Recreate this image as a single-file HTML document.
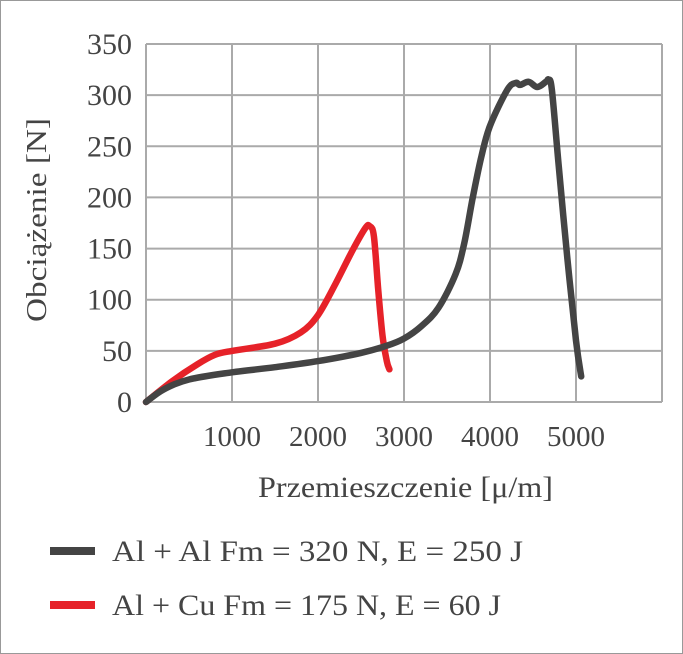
<!DOCTYPE html>
<html><head><meta charset="utf-8"><style>
body{margin:0;background:#fff}
svg{display:block;font-family:"Liberation Serif",serif}
</style></head><body>
<svg width="683" height="654" viewBox="0 0 683 654">
<rect x="0.5" y="0.5" width="682" height="653" fill="#fff" stroke="#999"/>
<g id="grid"></g><g id="ticks"></g><g id="series"></g>
<text x="46" y="220" transform="rotate(-90 46 220)" font-size="29" fill="#444" text-anchor="middle" textLength="204" lengthAdjust="spacingAndGlyphs">Obciążenie [N]</text>
<text x="258" y="497" font-size="30" fill="#444" textLength="295" lengthAdjust="spacingAndGlyphs">Przemieszczenie [μ/m]</text>
<g>
<line x1="50" y1="551" x2="95" y2="551" stroke="#444" stroke-width="8"/>
<text x="112" y="561" font-size="30" fill="#444" textLength="411" lengthAdjust="spacingAndGlyphs">Al + Al Fm = 320 N, E = 250 J</text>
<line x1="50" y1="605" x2="95" y2="605" stroke="#e62229" stroke-width="8"/>
<text x="112" y="615" font-size="30" fill="#444" textLength="389" lengthAdjust="spacingAndGlyphs">Al + Cu Fm = 175 N, E = 60 J</text>
</g>
</svg>
<script>
const xTicks=[1000,2000,3000,4000,5000];
const yTicks=[0,50,100,150,200,250,300,350];
const alAlX=[0,200,500,1000,1500,2000,2500,2800,3000,3200,3400,3600,3700,3800,3900,4000,4200,4300,4350,4450,4550,4650,4680,4720,4800,4900,5000,5060];
const alAlY=[0,12,22,29,34,40,48,55,62,74,92,125,155,200,240,270,305,312,310,313,308,313,315,305,230,140,60,25];
const alCuX=[0,300,600,800,1000,1500,1800,2000,2200,2400,2550,2600,2650,2700,2750,2800,2830];
const alCuY=[0,20,37,46,50,57,68,85,115,148,170,172,162,110,65,40,32];
const X0=146,X1=662,Y0=402,Y1=44,XMAX=6000,YMAX=350;
const sx=v=>X0+v/XMAX*(X1-X0), sy=v=>Y0-v/YMAX*(Y0-Y1);
const NS="http://www.w3.org/2000/svg";
const grid=document.getElementById('grid'),ticks=document.getElementById('ticks'),ser=document.getElementById('series');
function mk(tag,at,p){const e=document.createElementNS(NS,tag);for(const k in at)e.setAttribute(k,at[k]);p.appendChild(e);return e;}
for(let v=0;v<=XMAX;v+=1000){const l=mk('line',{x1:sx(v),x2:sx(v),y1:Y1,y2:Y0,stroke:'#aaa','stroke-width':2},grid);

}
yTicks.forEach(v=>{const l=mk('line',{x1:X0,x2:X1,y1:sy(v),y2:sy(v),stroke:'#aaa','stroke-width':2},grid);


const t=mk('text',{x:132,y:sy(v)+10,'font-size':30,fill:'#444','text-anchor':'end'},ticks);t.textContent=v;

});
xTicks.forEach(v=>{const t=mk('text',{x:sx(v),y:446,'font-size':29,fill:'#444','text-anchor':'middle'},ticks);t.textContent=v;

});
function path(xs,ys,c,name){
const P=xs.map((x,i)=>[sx(x),sy(ys[i])]);
let d='M'+P[0][0].toFixed(1)+' '+P[0][1].toFixed(1);
for(let i=0;i<P.length-1;i++){const p0=P[Math.max(i-1,0)],p1=P[i],p2=P[i+1],p3=P[Math.min(i+2,P.length-1)];
const c1=[p1[0]+(p2[0]-p0[0])/6,p1[1]+(p2[1]-p0[1])/6],c2=[p2[0]-(p3[0]-p1[0])/6,p2[1]-(p3[1]-p1[1])/6];
d+=' C'+c1.map(n=>n.toFixed(1)).join(' ')+' '+c2.map(n=>n.toFixed(1)).join(' ')+' '+p2.map(n=>n.toFixed(1)).join(' ');}
const p=mk('path',{d:d,fill:'none',stroke:c,'stroke-width':6.5,'stroke-linejoin':'round','stroke-linecap':'round'},ser);

}
path(alCuX,alCuY,'#e62229','series-al-cu');
path(alAlX,alAlY,'#444','series-al-al');
</script>
</body></html>
